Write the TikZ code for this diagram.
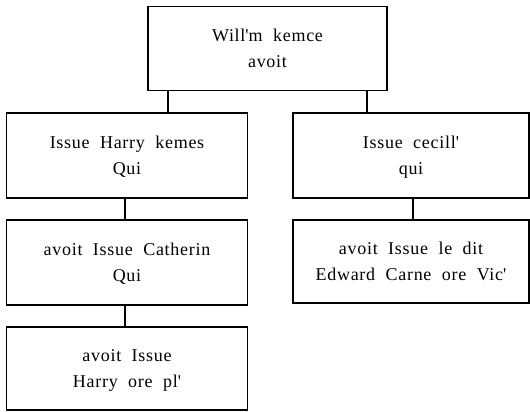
\documentclass[tikz,border=0pt]{standalone}
\usepackage{fontspec}
\setmainfont{Liberation Serif}[LetterSpace=4]
\newcommand{\ap}{\textquotesingle}
\begin{document}
\begin{tikzpicture}[x=1pt,y=-1pt,
  box/.style={draw,line width=1.6pt,inner sep=0pt},
  lbl/.style={align=center,font=\fontsize{18}{26.5}\selectfont,text depth=0pt},
  conn/.style={line width=1.6pt}]
\useasboundingbox (0,0) rectangle (530,412);
\node[box,minimum width=239pt,minimum height=84pt] (top) at (267.5,48.5) {};
\node[lbl] at (top) {Will\ap m\ \ kemce\\avoit};
\node[box,minimum width=241pt,minimum height=85pt] (l1) at (127,155.5) {};
\node[lbl] at (l1) {Issue\ \ Harry\ \ kemes\\Qui};
\node[box,minimum width=241pt,minimum height=85pt] (l2) at (127,262.5) {};
\node[lbl] at (l2) {avoit\ \ Issue\ \ Catherin\\Qui};
\node[box,minimum width=241pt,minimum height=83pt] (l3) at (127,368.5) {};
\node[lbl] at (l3) {avoit\ \ Issue\\Harry\ \ ore\ \ pl\ap};
\node[box,minimum width=236pt,minimum height=85pt] (r1) at (411,155.5) {};
\node[lbl] at (r1) {Issue\ \ cecill\ap\\qui};
\node[box,minimum width=236pt,minimum height=83pt] (r2) at (411,261.5) {};
\node[lbl] at (r2) {avoit\ \ Issue\ \ le\ \ dit\\Edward\ \ Carne\ \ ore\ \ Vic\ap};
\draw[conn] (top.south -| 168,0) -- (l1.north -| 168,0);
\draw[conn] (top.south -| 367,0) -- (r1.north -| 367,0);
\draw[conn] (l1.south -| 125,0) -- (l2.north -| 125,0);
\draw[conn] (l2.south -| 125,0) -- (l3.north -| 125,0);
\draw[conn] (r1.south -| 413,0) -- (r2.north -| 413,0);
\end{tikzpicture}
\end{document}
